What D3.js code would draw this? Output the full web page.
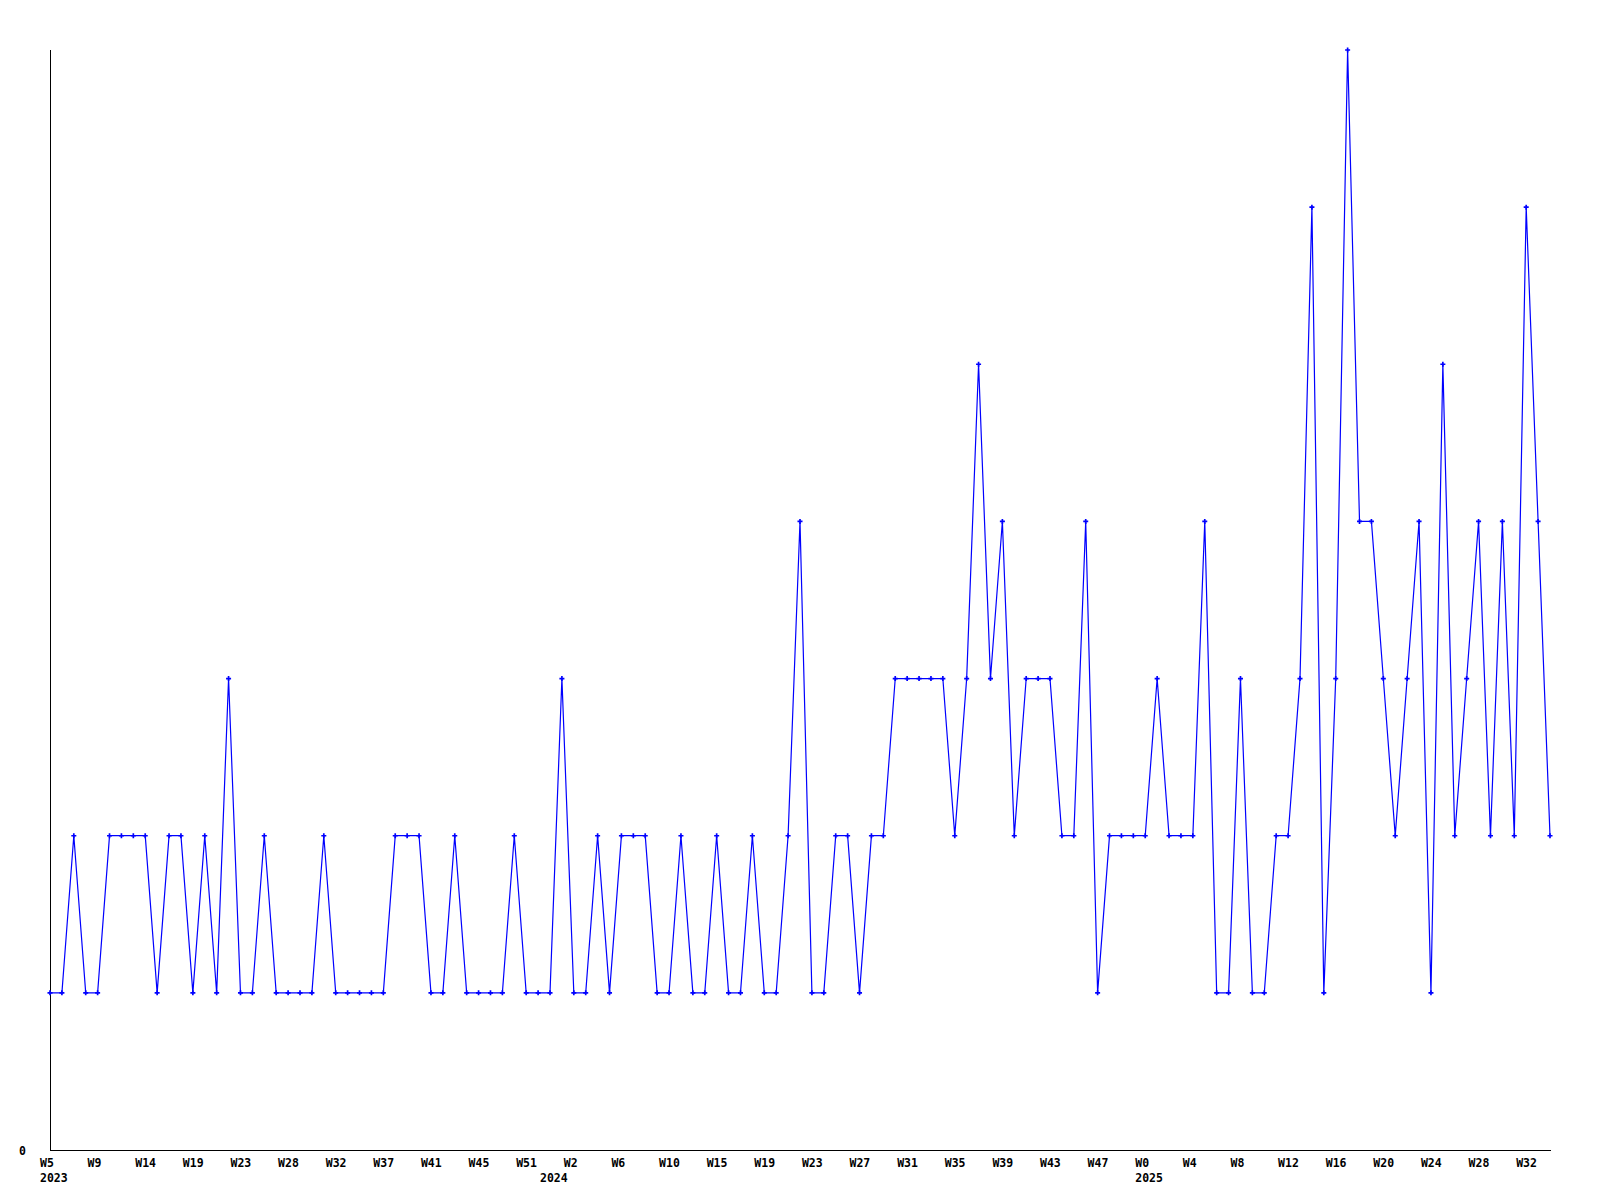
<!DOCTYPE html>
<html>
<head>
<meta charset="utf-8">
<script src="https://cdn.jsdelivr.net/npm/d3@7"></script>
<style>
  html, body { margin: 0; padding: 0; background: #fff; }
  svg text { font-family: "DejaVu Sans Mono", "Liberation Mono", monospace; font-weight: bold; font-size: 11.5px; fill: #000; }
</style>
</head>
<body>
<svg id="chart" width="1600" height="1200"></svg>
<script>
// values per sample (127 samples)
const values = [
  1,1,2,1,1,2,2,2,2,1,
  2,2,1,2,1,3,1,1,2,1,
  1,1,1,2,1,1,1,1,1,2,
  2,2,1,1,2,1,1,1,1,2,
  1,1,1,3,1,1,2,1,2,2,
  2,1,1,2,1,1,2,1,1,2,
  1,1,2,4,1,1,2,2,1,2,
  2,3,3,3,3,3,2,3,5,3,
  4,2,3,3,3,2,2,4,1,2,
  2,2,2,3,2,2,2,4,1,1,
  3,1,1,2,2,3,6,1,3,7,
  4,4,3,2,3,4,1,5,2,3,
  4,2,4,2,6,4,2
];
// week tick labels, one every 4 samples
const weekLabels = ["W5","W9","W14","W19","W23","W28","W32","W37","W41","W45","W51",
  "W2","W6","W10","W15","W19","W23","W27","W31","W35","W39","W43","W47",
  "W0","W4","W8","W12","W16","W20","W24","W28","W32"];
const labelStep = 4;
// year labels and the sample index they belong to
const years = ["2023","2024","2025"];
const yearIndex = [0, 42, 92];
const yTickValues = [0];

const svg = d3.select("#chart");
const x = d3.scaleLinear().domain([0, values.length - 1]).range([50, 1550]);
const y = d3.scaleLinear().domain([0, 7]).range([1150, 50]);

// axes lines
svg.append("line").attr("x1", 50.5).attr("x2", 50.5).attr("y1", y(7)).attr("y2", y(0) + 0.5)
  .attr("stroke", "#000").attr("stroke-width", 1);
svg.append("line").attr("x1", 50).attr("x2", 1551).attr("y1", y(0) + 0.5).attr("y2", y(0) + 0.5)
  .attr("stroke", "#000").attr("stroke-width", 1);

// y tick label
svg.selectAll("text.ytick").data(yTickValues).enter().append("text")
  .attr("class", "ytick").attr("x", 26).attr("y", d => y(d) + 5)
  .attr("text-anchor", "end").text(d => d);

// x labels
svg.selectAll("text.week").data(weekLabels).enter().append("text")
  .attr("class", "week").attr("x", (d, i) => x(i * labelStep) - 10).attr("y", 1167)
  .text(d => d);
svg.selectAll("text.year").data(years).enter().append("text")
  .attr("class", "year").attr("x", (d, i) => x(yearIndex[i]) - 10).attr("y", 1182)
  .text(d => d);

// line
const line = d3.line().x((d, i) => x(i)).y(d => y(d));
svg.append("path").datum(values).attr("d", line)
  .attr("fill", "none").attr("stroke", "#0000ff").attr("stroke-width", 1.2);

// markers
svg.selectAll("path.mk").data(values).enter().append("path")
  .attr("class", "mk")
  .attr("transform", (d, i) => `translate(${x(i)},${y(d)})`)
  .attr("d", d3.symbol(d3.symbolCross, 14)())
  .attr("fill", "#0000ff");
</script>
</body>
</html>
